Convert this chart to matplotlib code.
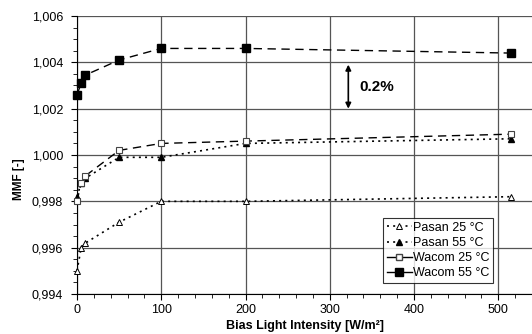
import matplotlib.pyplot as plt
import numpy as np
from matplotlib.ticker import MultipleLocator, FuncFormatter
from matplotlib.lines import Line2D

plt.rcParams['font.family'] = ['Liberation Sans', 'DejaVu Sans']

# bias light intensity [W/m2]
x = [0, 5, 10, 50, 100, 200, 515]
pasan_25 = [0.9950, 0.9960, 0.9962, 0.9971, 0.9980, 0.9980, 0.9982]
pasan_55 = [0.9982, 0.9988, 0.9990, 0.9999, 0.9999, 1.0005, 1.0007]
wacom_25 = [0.9980, 0.9988, 0.9991, 1.0002, 1.0005, 1.0006, 1.0009]
wacom_55 = [1.0026, 1.0031, 1.00345, 1.0041, 1.0046, 1.0046, 1.0044]

fig = plt.figure(figsize=(5.32, 3.34), dpi=100)
ax = fig.add_axes([77/532, 40/334, 455/532, 278/334])

dot = (0, (1.2, 2.5))
dash = (0, (6, 4))
ax.plot(x, pasan_25, linestyle=dot, color='black', lw=1.2, clip_on=False, zorder=3,
        marker='^', ms=5, mfc='white', mec='black', mew=0.7)
ax.plot(x, pasan_55, linestyle=dot, color='black', lw=1.2, clip_on=False, zorder=3,
        marker='^', ms=5, mfc='black', mec='black')
ax.plot(x, wacom_25, linestyle=dash, color='black', lw=1.0, clip_on=False, zorder=3,
        marker='s', ms=5, mfc='white', mec='#444444', mew=0.8)
ax.plot(x, wacom_55, linestyle=dash, color='black', lw=1.0, clip_on=False, zorder=3,
        marker='s', ms=5.5, mfc='black', mec='black')

ax.set_xlim(0, 540)
ax.set_ylim(0.994, 1.006)
ax.xaxis.set_major_locator(MultipleLocator(100))
ax.xaxis.set_minor_locator(MultipleLocator(20))
ax.yaxis.set_major_locator(MultipleLocator(0.002))
ax.yaxis.set_minor_locator(MultipleLocator(0.0005))
ax.yaxis.set_major_formatter(FuncFormatter(lambda v, p: f'{v:.3f}'.replace('.', ',')))
ax.grid(True, which='major', color='#555555', lw=0.9)
ax.set_axisbelow(True)
for s in ['top', 'right']:
    ax.spines[s].set_visible(False)
ax.tick_params(which='major', direction='out', length=4, labelsize=9, color='black')
ax.tick_params(which='minor', direction='out', length=3)
ax.tick_params(axis='x', pad=3)
ax.tick_params(axis='y', pad=6)

fig.text(305/532, 2/334, 'Bias Light Intensity [W/m²]', fontsize=9, fontweight='bold',
         ha='center', va='bottom')
fig.text(19/532, 155/334, 'MMF [-]', fontsize=8.5, fontweight='bold', rotation=90,
         ha='center', va='center')

# 0.2 % scale arrow
ax.annotate('', xy=(322, 1.0020), xytext=(322, 1.0039),
            arrowprops=dict(arrowstyle='<|-|>', color='black', lw=1.2,
                            mutation_scale=8, shrinkA=0, shrinkB=0))
ax.text(335, 1.00295, '0.2%', fontsize=11, fontweight='bold', va='center')

handles = [
    Line2D([], [], color='black', linestyle=dot, lw=1.2, marker='^', ms=5, mfc='white', mec='black', mew=0.7),
    Line2D([], [], color='black', linestyle=dot, lw=1.2, marker='^', ms=5, mfc='black'),
    Line2D([], [], color='black', lw=1.0, marker='s', ms=5, mfc='white', mec='#444444'),
    Line2D([], [], color='black', lw=1.0, marker='s', ms=5.5, mfc='black'),
]
labels = ['Pasan 25 °C', 'Pasan 55 °C', 'Wacom 25 °C', 'Wacom 55 °C']
leg = ax.legend(handles, labels, loc='lower right', bbox_to_anchor=(0.915, 0.04),
                fontsize=9, frameon=True, fancybox=False, edgecolor='black',
                borderpad=0.3, labelspacing=0.25, handlelength=2.0, handletextpad=0.1,
                borderaxespad=0)
leg.get_frame().set_linewidth(0.8)
leg.set_zorder(5)

fig.savefig('out.png', dpi=100)
